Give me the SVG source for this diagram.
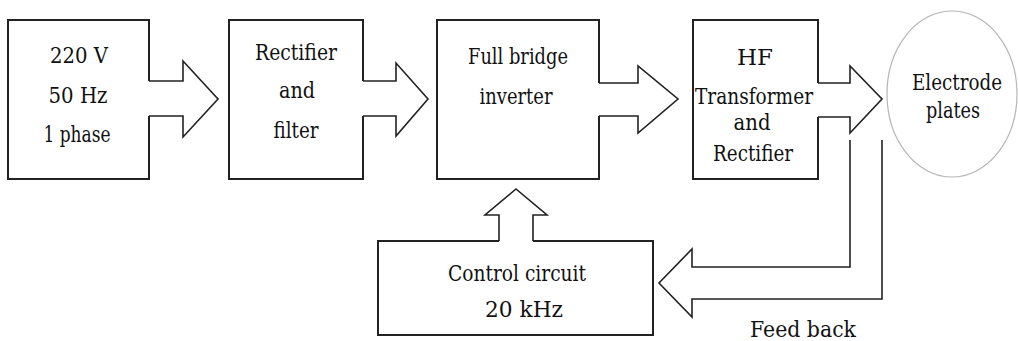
<svg xmlns="http://www.w3.org/2000/svg" width="1018" height="341" viewBox="0 0 1018 341">
<style>
.box{fill:none;stroke:#222;stroke-width:2;stroke-linejoin:miter}
.arr{fill:none;stroke:#222;stroke-width:1.6;stroke-linejoin:miter}
.ell{fill:none;stroke:#b5b5b5;stroke-width:1.2}
text{font-family:"DejaVu Serif",serif;font-size:21.5px;fill:#111;text-anchor:middle}
</style>
<rect width="1018" height="341" fill="#fff"/>
<g id="node-supply">
<path class="box" d="M149,81 V20 H8 V179 H149 V116"/>
<text x="79" y="63" textLength="58" lengthAdjust="spacingAndGlyphs">220 V</text>
<text x="78" y="103" textLength="59" lengthAdjust="spacingAndGlyphs">50 Hz</text>
<text x="77" y="142" textLength="67" lengthAdjust="spacingAndGlyphs">1 phase</text>
</g>
<g id="node-rectifier">
<path class="box" d="M363,81 V20 H229 V179 H363 V116"/>
<text x="296" y="60" textLength="82" lengthAdjust="spacingAndGlyphs">Rectifier</text>
<text x="297" y="98" textLength="36" lengthAdjust="spacingAndGlyphs">and</text>
<text x="296" y="138" textLength="45" lengthAdjust="spacingAndGlyphs">filter</text>
</g>
<g id="node-inverter">
<path class="box" d="M599,83 V20 H437 V179 H599 V116"/>
<text x="518" y="64" textLength="100" lengthAdjust="spacingAndGlyphs">Full bridge</text>
<text x="516" y="104" textLength="73" lengthAdjust="spacingAndGlyphs">inverter</text>
</g>
<g id="node-hf">
<path class="box" d="M818,83 V20 H693 V179 H818 V117"/>
<text x="755" y="65" textLength="36" lengthAdjust="spacingAndGlyphs">HF</text>
<text x="754" y="104" textLength="118" lengthAdjust="spacingAndGlyphs">Transformer</text>
<text x="752" y="130" textLength="37" lengthAdjust="spacingAndGlyphs">and</text>
<text x="753" y="161" textLength="80" lengthAdjust="spacingAndGlyphs">Rectifier</text>
</g>
<g id="node-electrode">
<ellipse class="ell" cx="952" cy="94" rx="65" ry="83"/>
<text x="957" y="90" textLength="90" lengthAdjust="spacingAndGlyphs">Electrode</text>
<text x="953" y="118" textLength="54" lengthAdjust="spacingAndGlyphs">plates</text>
</g>
<g id="node-control">
<path class="box" d="M499,241 H378 V335 H653 V241 H533"/>
<text x="517" y="281" textLength="138" lengthAdjust="spacingAndGlyphs">Control circuit</text>
<text x="524" y="317" textLength="78" lengthAdjust="spacingAndGlyphs">20 kHz</text>
</g>
<g id="connectors">
<polyline class="arr" points="149,81 183,81 183,61 218,99 183,137 183,116 149,116"/>
<polyline class="arr" points="363,81 396,81 396,63 428,99 396,136 396,116 363,116"/>
<polyline class="arr" points="599,83 638,83 638,66 678,99 638,133 638,116 599,116"/>
<polyline class="arr" points="818,83 850,83 850,66 882,99 850,133 850,117 818,117"/>
<polyline class="arr" points="499,241 499,215 485,215 516,189 547,215 533,215 533,241"/>
<polyline class="arr" points="850,140 850,267 692,267 692,249 659,283 692,317 692,299 882,299 882,140"/>
<text x="803" y="337" textLength="106" lengthAdjust="spacingAndGlyphs">Feed back</text>
</g>
</svg>
